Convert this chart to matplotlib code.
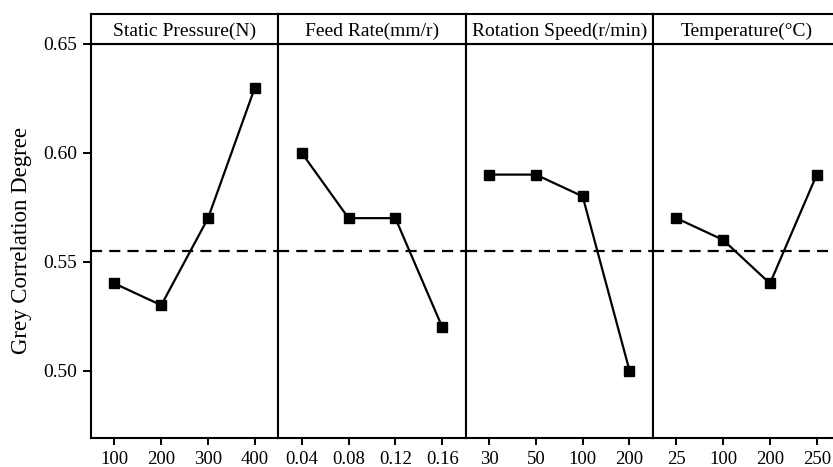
import matplotlib
matplotlib.use('Agg')
import matplotlib.pyplot as plt

# Factor names and levels
factors = ['Static Pressure(N)', 'Feed Rate(mm/r)', 'Rotation Speed(r/min)', 'Temperature(°C)']
levels = [['100', '200', '300', '400'],
          ['0.04', '0.08', '0.12', '0.16'],
          ['30', '50', '100', '200'],
          ['25', '100', '200', '250']]

# Mean grey correlation degree at each level
grey_pressure = [0.54, 0.53, 0.57, 0.63]
grey_feed = [0.60, 0.57, 0.57, 0.52]
grey_speed = [0.59, 0.59, 0.58, 0.50]
grey_temp = [0.57, 0.56, 0.54, 0.59]
grey_values = [grey_pressure, grey_feed, grey_speed, grey_temp]

grey_mean = 0.555

plt.rcParams['font.family'] = ['Liberation Serif', 'DejaVu Serif']

W, H = 833, 467
fig = plt.figure(figsize=(W/100, H/100), dpi=100)

left, pw = 91, 187.3
top, bottom = 44, 438
head_top = 14
ylo, yhi = 0.469, 0.65

for i in range(4):
    x0 = (left + i*pw)/W
    ax = fig.add_axes([x0, 1 - bottom/H, pw/W, (bottom - top)/H])
    xs = [1, 2, 3, 4]
    ax.plot(xs, grey_values[i], color='black', linewidth=1.6, marker='s',
            markersize=7, zorder=3)
    ax.axhline(grey_mean, color='black', linestyle=(0, (5, 3.2)), linewidth=1.6)
    ax.set_xlim(0.5, 4.5)
    ax.set_ylim(ylo, yhi)
    ax.set_xticks(xs)
    ax.set_xticklabels(levels[i])
    ax.tick_params(axis='x', direction='out', length=5, width=1.4, labelsize=13.5, pad=4)
    for s in ax.spines.values():
        s.set_linewidth(1.5)
    if i == 0:
        ax.set_yticks([0.50, 0.55, 0.60, 0.65])
        ax.set_yticklabels(['0.50', '0.55', '0.60', '0.65'])
        ax.tick_params(axis='y', direction='out', length=6, width=1.4, labelsize=14, pad=4)
        ax.set_ylabel('Grey Correlation Degree', fontsize=16.5, labelpad=8)
    else:
        ax.set_yticks([])

    # header strip with the factor name
    hx = fig.add_axes([x0, 1 - top/H, pw/W, (top - head_top)/H])
    hx.set_xticks([])
    hx.set_yticks([])
    for s in hx.spines.values():
        s.set_linewidth(1.5)
    hx.text(0.5, 0.42, factors[i], ha='center', va='center', fontsize=14,
            transform=hx.transAxes)

fig.savefig('out.png', dpi=100)
